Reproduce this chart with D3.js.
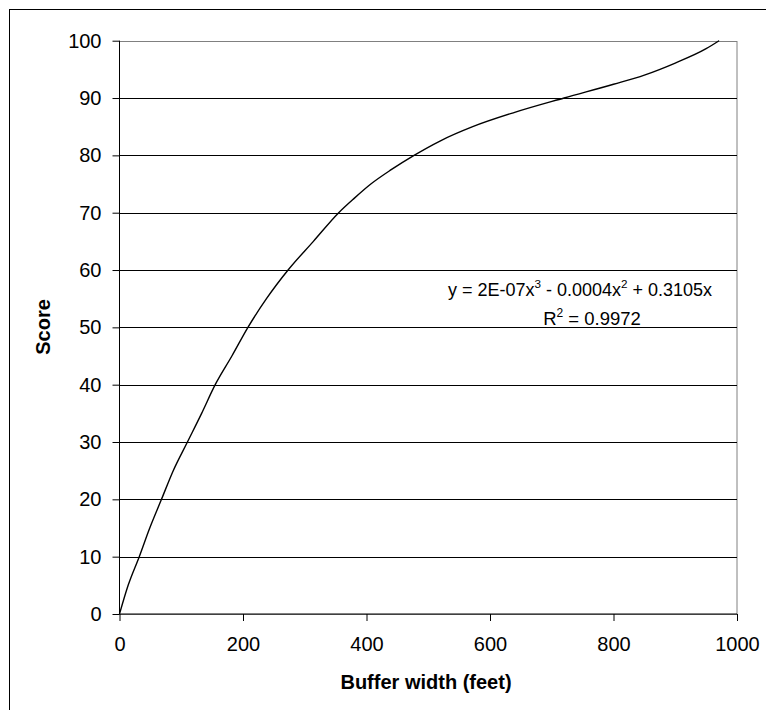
<!DOCTYPE html>
<html>
<head>
<meta charset="utf-8">
<script src="https://cdn.jsdelivr.net/npm/d3@7"></script>
<style>
  html, body { margin: 0; padding: 0; background: #fff; }
  svg { display: block; font-family: Arial, "Liberation Sans", sans-serif; }
</style>
</head>
<body>
<svg id="chart" width="766" height="710"></svg>
<script>
// Buffer width (feet) and score
const bufferWidth = [0, 14, 32, 49, 68, 87, 110, 133, 155, 182, 208, 238, 273, 314, 355, 380, 407, 440, 477, 519, 572, 640, 720, 800, 850, 900, 950, 971];
const score       = [0, 5, 10, 15, 20, 25, 30, 35, 40, 45, 50, 55, 60, 65, 70, 72.5, 75, 77.5, 80, 82.5, 85, 87.5, 90, 92.4, 94, 96.1, 98.6, 100];
const xTicks = [0, 200, 400, 600, 800, 1000];
const yTicks = [0, 10, 20, 30, 40, 50, 60, 70, 80, 90, 100];
const xTitle = "Buffer width (feet)";
const yTitle = "Score";
const eqLine1 = ["y = 2E-07x", "3", " - 0.0004x", "2", " + 0.3105x"];
const eqLine2 = ["R", "2", " = 0.9972"];

const svg = d3.select("#chart");
const plot = { left: 119.5, right: 737, top: 40.7, bottom: 614 };
const FONT = "Arial, 'Liberation Sans', sans-serif";

// outer chart border (extends past the frame on right/bottom)
svg.append("rect").attr("x", 9.5).attr("y", 9.5).attr("width", 1000).attr("height", 1000)
  .attr("fill", "none").attr("stroke", "#000").attr("stroke-width", 1);

const x = d3.scaleLinear().domain([0, 1000]).range([plot.left, plot.right]);
const y = d3.scaleLinear().domain([0, 100]).range([plot.bottom, plot.top]);

// plot area border (gray)
svg.append("rect")
  .attr("x", plot.left).attr("y", Math.round(plot.top) + 0.5)
  .attr("width", plot.right - plot.left).attr("height", plot.bottom - Math.round(plot.top))
  .attr("fill", "none").attr("stroke", "#808080").attr("stroke-width", 1);

// gridlines
svg.append("g").selectAll("line").data(yTicks.filter(d => d > 0 && d < 100)).join("line")
  .attr("x1", plot.left).attr("x2", plot.right)
  .attr("y1", d => Math.round(y(d)) + 0.5).attr("y2", d => Math.round(y(d)) + 0.5)
  .attr("stroke", "#000").attr("stroke-width", 1);

// Y axis
const yAxis = d3.axisLeft(y).tickValues(yTicks).tickSize(7).tickPadding(11).tickFormat(d3.format("d"));
const gy = svg.append("g").attr("transform", `translate(${plot.left},0)`).call(yAxis);
gy.select(".domain").attr("stroke", "#000").attr("d", `M0,${plot.top}V${plot.bottom}`);
gy.selectAll(".tick line").attr("stroke", "#000");
gy.selectAll(".tick text").attr("font-size", 20).attr("font-family", FONT).attr("fill", "#000");

// X axis
const xAxis = d3.axisBottom(x).tickValues(xTicks).tickSize(7).tickPadding(16).tickFormat(d3.format("d"));
const gx = svg.append("g").attr("transform", `translate(0,${plot.bottom})`).call(xAxis);
gx.select(".domain").attr("stroke", "#000").attr("d", `M${plot.left},0H${plot.right}`);
gx.selectAll(".tick line").attr("stroke", "#000");
gx.selectAll(".tick text").attr("font-size", 20).attr("font-family", FONT).attr("fill", "#000");

// curve
const pts = bufferWidth.map((b, i) => [b, score[i]]);
svg.append("path").datum(pts)
  .attr("fill", "none").attr("stroke", "#000").attr("stroke-width", 1.4)
  .attr("d", d3.line().x(d => x(d[0])).y(d => y(d[1])).curve(d3.curveMonotoneX));

// axis titles
svg.append("text").attr("x", 426).attr("y", 689)
  .attr("text-anchor", "middle").attr("font-weight", "bold").attr("font-size", 20).text(xTitle);
svg.append("text").attr("transform", `translate(50,327) rotate(-90)`)
  .attr("text-anchor", "middle").attr("font-weight", "bold").attr("font-size", 20).text(yTitle);

// trendline equation
function eq(parts, cx, by, fs) {
  const t = svg.append("text").attr("x", cx).attr("y", by).attr("text-anchor", "middle").attr("font-size", fs);
  parts.forEach((p, i) => {
    const sup = (i % 2 === 1);
    const ts = t.append("tspan").text(p);
    if (sup) ts.attr("font-size", fs * 0.65).attr("dy", -fs * 0.45);
    else if (i > 0) ts.attr("dy", fs * 0.45);
  });
}
eq(eqLine1, 580, 296, 18);
eq(eqLine2, 592, 325, 18.5);
</script>
</body>
</html>
